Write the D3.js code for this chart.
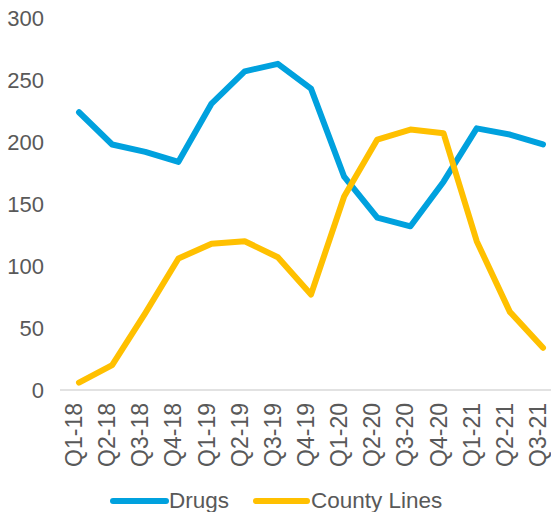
<!DOCTYPE html>
<html><head><meta charset="utf-8">
<script src="https://cdn.jsdelivr.net/npm/d3@7"></script>
<style>body{margin:0;background:#fff}svg{display:block}</style>
</head><body>
<script>
const categories = ["Q1-18","Q2-18","Q3-18","Q4-18","Q1-19","Q2-19","Q3-19","Q4-19","Q1-20","Q2-20","Q3-20","Q4-20","Q1-21","Q2-21","Q3-21"];
const drugs = [224,198,192,184,231,257,263,243,172,139,132,168,211,206,198];
const countyLines = [6,20,62,106,118,120,107,77,156,202,210,207,120,63,34];
const yTicks = [0,50,100,150,200,250,300];
const seriesNames = ["Drugs","County Lines"];
const colors = ["#00A1DE","#FFC000"];

const W = 551, H = 512;
const svg = d3.select("body").append("svg").attr("width", W).attr("height", H);
const font = "Liberation Sans, Arial, sans-serif";
const textColor = "#595959";

const x = d3.scalePoint().domain(categories).range([79, 543]);
const y = d3.scaleLinear().domain([0, 300]).range([390, 18]);

// baseline
svg.append("line").attr("x1", 60).attr("x2", W).attr("y1", y(0)).attr("y2", y(0))
  .attr("stroke", "#d9d9d9").attr("stroke-width", 1.5);

// y tick labels
svg.append("g").selectAll("text").data(yTicks).join("text")
  .attr("x", 44).attr("y", d => y(d)).attr("dy", "0.36em")
  .attr("text-anchor", "end").attr("font-family", font).attr("font-size", 22)
  .attr("fill", textColor).text(d => d);

// x tick labels
svg.append("g").selectAll("text").data(categories).join("text")
  .attr("transform", d => `translate(${x(d)},403) rotate(-90)`)
  .attr("dy", 3).attr("text-anchor", "end").attr("font-family", font).attr("font-size", 23)
  .attr("fill", textColor).text(d => d);

const line = d3.line().x((d, i) => x(categories[i])).y(d => y(d));
[drugs, countyLines].forEach((s, i) => {
  svg.append("path").datum(s).attr("d", line).attr("fill", "none")
    .attr("stroke", colors[i]).attr("stroke-width", 6)
    .attr("stroke-linejoin", "round").attr("stroke-linecap", "round");
});

// legend
const legendItems = [{x1: 113, x2: 166, tx: 169}, {x1: 256, x2: 307, tx: 311}];
seriesNames.forEach((n, i) => {
  const l = legendItems[i];
  svg.append("line").attr("x1", l.x1).attr("x2", l.x2).attr("y1", 501).attr("y2", 501)
    .attr("stroke", colors[i]).attr("stroke-width", 6).attr("stroke-linecap", "round");
  svg.append("text").attr("x", l.tx).attr("y", 508).attr("font-family", font)
    .attr("font-size", 22.5).attr("fill", textColor).text(n);
});
</script>
</body></html>
